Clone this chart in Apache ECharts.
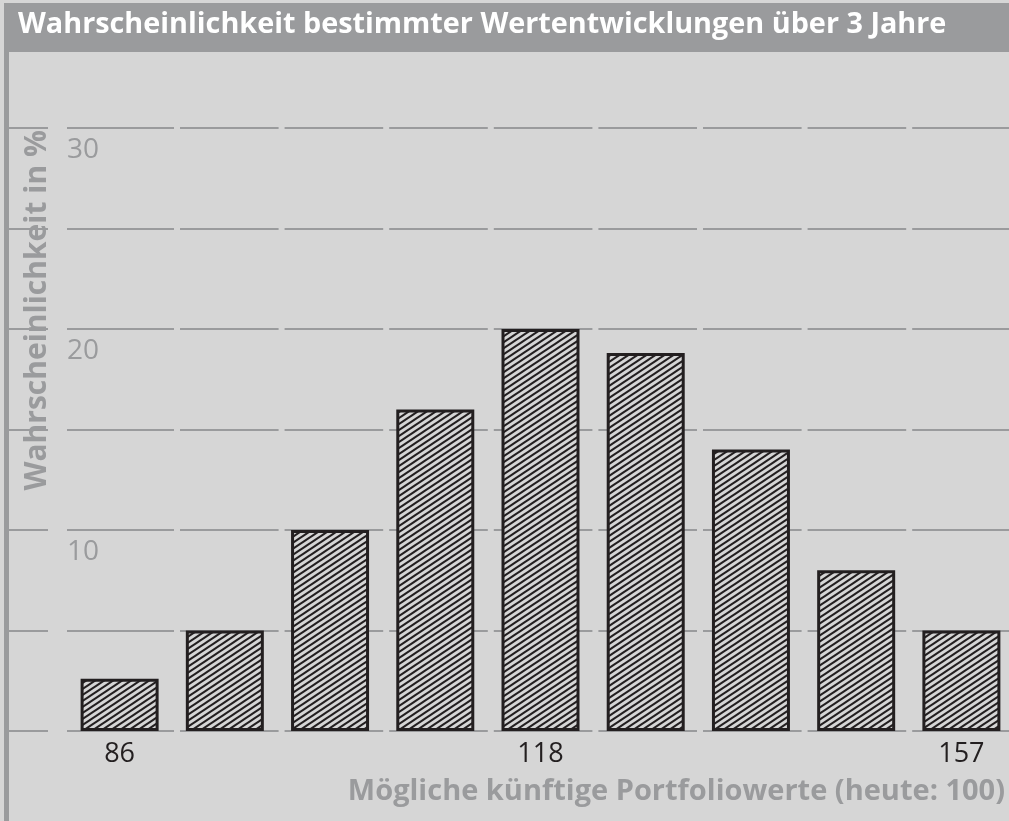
<!DOCTYPE html>
<html>
<head>
<meta charset="utf-8">
<script src="https://cdn.jsdelivr.net/npm/echarts@6/dist/echarts.min.js"></script>
<style>
  html, body { margin: 0; padding: 0; background: #d6d6d6; }
  #chart { width: 1009px; height: 821px; }
</style>
</head>
<body>
<div id="chart"></div>
<script>
const categories = ['86', '', '', '', '118', '', '', '', '157']
const probabilities = [2.6, 5, 10, 16, 20, 18.8, 14, 8, 5]
const yTickLabels = ['10', '20', '30']

const titleText = 'Wahrscheinlichkeit bestimmter Wertentwicklungen über 3 Jahre'
const yName = 'Wahrscheinlichkeit in %'
const xName = 'Mögliche künftige Portfoliowerte (heute: 100)'

const bg = '#d6d6d6'
const grey = '#9a9b9d'
const ink = '#231f20'
const font = '"Open Sans", "Noto Sans", sans-serif'

// diagonal hatch for the bars
function makeHatch() {
  const w = 9, h = 6
  const c = document.createElement('canvas')
  c.width = w
  c.height = h
  const ctx = c.getContext('2d')
  ctx.fillStyle = bg
  ctx.fillRect(0, 0, w, h)
  ctx.strokeStyle = ink
  ctx.lineWidth = 2
  for (const k of [-1, 0, 1]) {
    ctx.beginPath()
    ctx.moveTo(-2, h + (2 * h) / w + k * h)
    ctx.lineTo(w + 2, -(2 * h) / w + k * h)
    ctx.stroke()
  }
  return c
}

// gridline dashes break roughly between the columns
const gridDash = [107, 6, 98.6, 6, 98.6, 6, 98.6, 6, 98.6, 6, 98.6, 6, 98.6, 6, 98.6, 6, 200, 10]

const chart = echarts.init(document.getElementById('chart'))

chart.setOption({
  backgroundColor: bg,
  animation: false,
  textStyle: { fontFamily: font },
  graphic: [
    { type: 'rect', z: 0, shape: { x: 4, y: 3, width: 1005, height: 49 }, style: { fill: grey } },
    { type: 'rect', z: 0, shape: { x: 4, y: 52, width: 5, height: 769 }, style: { fill: grey } }
  ],
  title: {
    text: titleText,
    left: 18,
    top: 10,
    padding: 0,
    z: 10,
    textStyle: { color: '#fff', fontFamily: font, fontWeight: 'bold', fontSize: 28.8 }
  },
  grid: [
    { left: 67, top: 128, width: 947, height: 603, outerBoundsMode: 'none' },
    { left: 9, top: 128, width: 39, height: 603, outerBoundsMode: 'none' }
  ],
  xAxis: [
    {
      type: 'category',
      gridIndex: 0,
      data: categories,
      axisLine: { show: false },
      axisTick: { show: false },
      axisLabel: { interval: 0, color: ink, fontSize: 27, fontFamily: font, margin: 10 },
      name: xName,
      nameLocation: 'end',
      nameGap: -9,
      nameTextStyle: {
        align: 'right',
        verticalAlign: 'top',
        padding: [46, 0, 0, 0],
        color: grey,
        fontWeight: 'bold',
        fontSize: 29,
        fontFamily: font
      }
    },
    { type: 'value', gridIndex: 1, show: false, min: 0, max: 1 }
  ],
  yAxis: [
    {
      type: 'value',
      gridIndex: 0,
      min: 0,
      max: 30,
      interval: 5,
      axisLine: { show: false },
      axisTick: { show: false },
      axisLabel: {
        inside: true,
        margin: 0,
        verticalAlign: 'top',
        padding: [8, 0, 0, 0],
        color: grey,
        fontSize: 28,
        fontFamily: font,
        formatter: v => (yTickLabels.includes(String(v)) ? String(v) : '')
      },
      splitLine: { lineStyle: { color: grey, width: 2, type: gridDash } }
    },
    {
      type: 'value',
      gridIndex: 1,
      min: 0,
      max: 30,
      interval: 5,
      offset: -28,
      axisLine: { show: false },
      axisTick: { show: false },
      axisLabel: { show: false },
      splitLine: { lineStyle: { color: grey, width: 2 } },
      name: yName,
      nameLocation: 'end',
      nameRotate: 90,
      nameGap: -2,
      nameTextStyle: {
        align: 'right',
        verticalAlign: 'middle',
        color: grey,
        fontWeight: 'bold',
        fontSize: 30,
        fontFamily: font
      }
    }
  ],
  series: [
    {
      type: 'bar',
      xAxisIndex: 0,
      yAxisIndex: 0,
      data: probabilities,
      barWidth: 78,
      silent: true,
      itemStyle: {
        color: { image: makeHatch(), repeat: 'repeat' },
        borderColor: ink,
        borderWidth: 3
      }
    }
  ]
})
</script>
</body>
</html>
